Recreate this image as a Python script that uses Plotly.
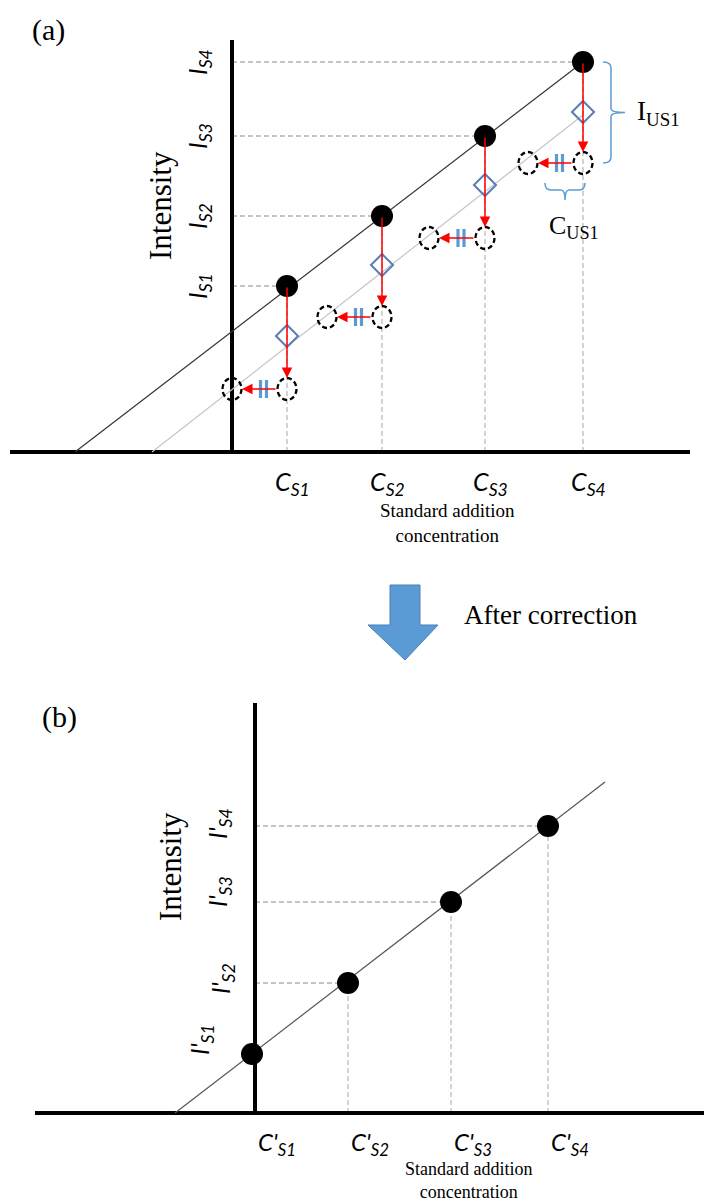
import plotly.graph_objects as go

W, H = 704, 1203
SPLIT = 560  # pixel row that separates the two panels

SERIF = "Liberation Serif"
ITAL = "Lato"

# ---------------- Panel (a) data (arbitrary units) ----------------
C_S = [55, 150, 253, 351]          # standard addition concentrations
I_S = [166, 236, 316, 390]         # measured intensities (filled dots)
I_MID = [116, 187, 267, 340]       # intermediate (diamonds)
I_CORR = [63, 135, 214, 289]       # intensity after subtraction (dashed circles)
C_SHIFT = [0, 95, 197, 296]        # concentration after shift (left dashed circles)
FIT_A_C = [-157, 351]
FIT_A_I = [0, 390]
FIT_CORR_C = [-80, 351]
FIT_CORR_I = [0, 337]
C_LABELS_A = ["C<sub>S1</sub>", "C<sub>S2</sub>", "C<sub>S3</sub>", "C<sub>S4</sub>"]
I_LABELS_A = ["I<sub>S1</sub>", "I<sub>S2</sub>", "I<sub>S3</sub>", "I<sub>S4</sub>"]

# ---------------- Panel (b) data ----------------
C_B = [-3, 93, 196, 293]
I_B = [59, 130, 211, 287]
FIT_B_C = [-80, 350]
FIT_B_I = [0, 331]
C_LABELS_B = ["C'<sub>S1</sub>", "C'<sub>S2</sub>", "C'<sub>S3</sub>", "C'<sub>S4</sub>"]
I_LABELS_B = ["I'<sub>S1</sub>", "I'<sub>S2</sub>", "I'<sub>S3</sub>", "I'<sub>S4</sub>"]

fig = go.Figure()
shapes = []
ann = []

def line(x0, y0, x1, y1, xr, yr, color, width, dash="solid", layer="below"):
    shapes.append(dict(type="line", xref=xr, yref=yr, x0=x0, y0=y0, x1=x1, y1=y1,
                       line=dict(color=color, width=width, dash=dash), layer=layer))

# ======== Panel (a) ========
for c, i, ic in zip(C_S, I_S, I_CORR):
    line(0, i, c, i, "x", "y", "#8a8a8a", 1.1, "5px,3px")
    line(c, 0, c, i, "x", "y", "#b0b0b0", 1.1, "5px,3px")
line(-222, 0, 458, 0, "x", "y", "black", 4)
line(0, 0, 0, 412, "x", "y", "black", 4)

fig.add_trace(go.Scatter(x=FIT_A_C, y=FIT_A_I, mode="lines", line=dict(color="#333333", width=1.2),
                         xaxis="x", yaxis="y", showlegend=False, hoverinfo="skip"))
fig.add_trace(go.Scatter(x=FIT_CORR_C, y=FIT_CORR_I, mode="lines", line=dict(color="#c4c4c4", width=1.2),
                         xaxis="x", yaxis="y", showlegend=False, hoverinfo="skip"))

for c, cs, ic in zip(C_S, C_SHIFT, I_CORR):
    for cc in (c, cs):
        shapes.append(dict(type="circle", xref="x", yref="y", x0=cc - 9.5, x1=cc + 9.5,
                           y0=ic - 11, y1=ic + 11, line=dict(color="black", width=2.3, dash="5px,3px"),
                           fillcolor="rgba(0,0,0,0)", layer="above"))
    mid = (c + cs) / 2 + 4
    for dx in (-3, 3):
        line(mid + dx, ic - 9, mid + dx, ic + 9, "x", "y", "#5b9bd5", 3.2, layer="above")

for c, cs, i, ic in zip(C_S, C_SHIFT, I_S, I_CORR):
    ann.append(dict(x=c, y=ic + 11, ax=c, ay=i, xref="x", yref="y", axref="x", ayref="y",
                    text="", showarrow=True, arrowhead=2, arrowsize=1.4, arrowwidth=1.5,
                    arrowcolor="#ff0000"))
    ann.append(dict(x=cs + 10, y=ic, ax=c - 10, ay=ic, xref="x", yref="y", axref="x", ayref="y",
                    text="", showarrow=True, arrowhead=2, arrowsize=1.4, arrowwidth=1.5,
                    arrowcolor="#ff0000"))

fig.add_trace(go.Scatter(x=C_S, y=I_MID, mode="markers", xaxis="x", yaxis="y",
                         marker=dict(symbol="diamond-open", size=17, color="#5a7db5", line=dict(width=2)),
                         showlegend=False, hoverinfo="skip"))
fig.add_trace(go.Scatter(x=C_S, y=I_S, mode="markers", xaxis="x", yaxis="y",
                         marker=dict(symbol="circle", size=22, color="black"),
                         showlegend=False, hoverinfo="skip"))

# braces
xb, xe, xt = 379, 371, 393
yt, yb = I_S[3], I_CORR[3]
ym = (yt + yb) / 2
shapes.append(dict(type="path", xref="x", yref="y", line=dict(color="#5b9bd5", width=1.5),
                   path=f"M{xe},{yt} Q{xb},{yt} {xb},{yt-6} L{xb},{ym+4} Q{xb},{ym} {xt},{ym} "
                        f"Q{xb},{ym} {xb},{ym-4} L{xb},{yb+6} Q{xb},{yb} {xe},{yb}"))
x0b, x1b = 313, 353
xm = (x0b + x1b) / 2
yh = 262
shapes.append(dict(type="path", xref="x", yref="y", line=dict(color="#5b9bd5", width=1.5),
                   path=f"M{x0b},{yh+7} Q{x0b},{yh} {x0b+6},{yh} L{xm-4},{yh} Q{xm},{yh} {xm},{yh-10} "
                        f"Q{xm},{yh} {xm+4},{yh} L{x1b-6},{yh} Q{x1b},{yh} {x1b},{yh+7}"))

ann.append(dict(x=403, y=ym, xref="x", yref="y", text="I<sub>US1</sub>", showarrow=False,
                xanchor="left", yanchor="middle", font=dict(family=SERIF, size=27, color="black")))
ann.append(dict(x=315, y=225, xref="x", yref="y", text="C<sub>US1</sub>", showarrow=False,
                xanchor="left", yanchor="middle", font=dict(family=SERIF, size=26, color="black")))

for c, t in zip(C_S, C_LABELS_A):
    ann.append(dict(x=c + 5, y=-31, xref="x", yref="y", text=f"<i>{t}</i>", showarrow=False,
                    xanchor="center", yanchor="middle", font=dict(family=ITAL, size=25, color="black")))
for i, t in zip(I_S, I_LABELS_A):
    ann.append(dict(x=-33, y=i, xref="x", yref="y", text=f"<i>{t}</i>", showarrow=False, textangle=-90,
                    xanchor="center", yanchor="middle", font=dict(family=ITAL, size=25, color="black")))

ann.append(dict(x=-72, y=246, xref="x", yref="y", text="Intensity", showarrow=False, textangle=-90,
                xanchor="center", yanchor="middle", font=dict(family=SERIF, size=31, color="black")))
ann.append(dict(x=215, y=-71, xref="x", yref="y", text="Standard addition<br>concentration",
                showarrow=False, xanchor="center", yanchor="middle",
                font=dict(family=SERIF, size=19, color="black")))
ann.append(dict(x=-184, y=422, xref="x", yref="y", text="(a)", showarrow=False,
                xanchor="center", yanchor="middle", font=dict(family=SERIF, size=30, color="black")))

# ======== Middle arrow ========
shapes.append(dict(type="path", xref="x2", yref="y2", fillcolor="#5b9bd5",
                   line=dict(color="#4a7fb5", width=1),
                   path="M135,528 L165,528 L165,488 L183,488 L150,453 L113,488 L135,488 Z"))
ann.append(dict(x=207, y=498, xref="x2", yref="y2", text="After correction", showarrow=False,
                xanchor="left", yanchor="middle", font=dict(family=SERIF, size=27, color="black")))

# ======== Panel (b) ========
for c, i in zip(C_B[1:], I_B[1:]):
    line(0, i, c, i, "x2", "y2", "#8a8a8a", 1.1, "5px,3px")
    line(c, 0, c, i, "x2", "y2", "#b0b0b0", 1.1, "5px,3px")
line(-220, 0, 449, 0, "x2", "y2", "black", 4)
line(0, 0, 0, 410, "x2", "y2", "black", 4)

fig.add_trace(go.Scatter(x=FIT_B_C, y=FIT_B_I, mode="lines", line=dict(color="#555555", width=1.2),
                         xaxis="x2", yaxis="y2", showlegend=False, hoverinfo="skip"))
fig.add_trace(go.Scatter(x=C_B, y=I_B, mode="markers", xaxis="x2", yaxis="y2",
                         marker=dict(symbol="circle", size=22, color="black"),
                         showlegend=False, hoverinfo="skip"))

LBL_DX_B = [-54, -33, -36, -36]
LBL_DY_B = [-14, -4, -10, -2]
for i, t, dx, dy in zip(I_B, I_LABELS_B, LBL_DX_B, LBL_DY_B):
    ann.append(dict(x=dx, y=i - dy, xref="x2", yref="y2", text=f"<i>{t}</i>", showarrow=False,
                    textangle=-90, xanchor="center", yanchor="middle",
                    font=dict(family=ITAL, size=25, color="black")))
for c, t in zip(C_B, C_LABELS_B):
    ann.append(dict(x=max(c, 0) + 1, y=-30, xref="x2", yref="y2", text=f"<i>{t}</i>", showarrow=False,
                    xanchor="left", yanchor="middle", font=dict(family=ITAL, size=24, color="black")))

ann.append(dict(x=-85, y=246, xref="x2", yref="y2", text="Intensity", showarrow=False, textangle=-90,
                xanchor="center", yanchor="middle", font=dict(family=SERIF, size=31, color="black")))
ann.append(dict(x=213, y=-67, xref="x2", yref="y2", text="Standard addition<br>concentration",
                showarrow=False, xanchor="center", yanchor="middle",
                font=dict(family=SERIF, size=18, color="black")))
ann.append(dict(x=-196, y=396, xref="x2", yref="y2", text="(b)", showarrow=False,
                xanchor="center", yanchor="middle", font=dict(family=SERIF, size=30, color="black")))

top_frac = 1 - SPLIT / H
fig.update_layout(
    width=W, height=H, margin=dict(l=0, r=0, t=0, b=0),
    paper_bgcolor="white", plot_bgcolor="white", showlegend=False,
    xaxis=dict(domain=[0, 1], range=[-232, W - 232], visible=False, anchor="y"),
    yaxis=dict(domain=[top_frac, 1], range=[452 - SPLIT, 452], visible=False, anchor="x"),
    xaxis2=dict(domain=[0, 1], range=[-255, W - 255], visible=False, anchor="y2"),
    yaxis2=dict(domain=[0, top_frac], range=[1113 - H, 1113 - SPLIT], visible=False, anchor="x2"),
    shapes=shapes, annotations=ann,
)

fig.write_html("out.html", config={"displayModeBar": False},
               post_script="document.body.style.margin='0';")
